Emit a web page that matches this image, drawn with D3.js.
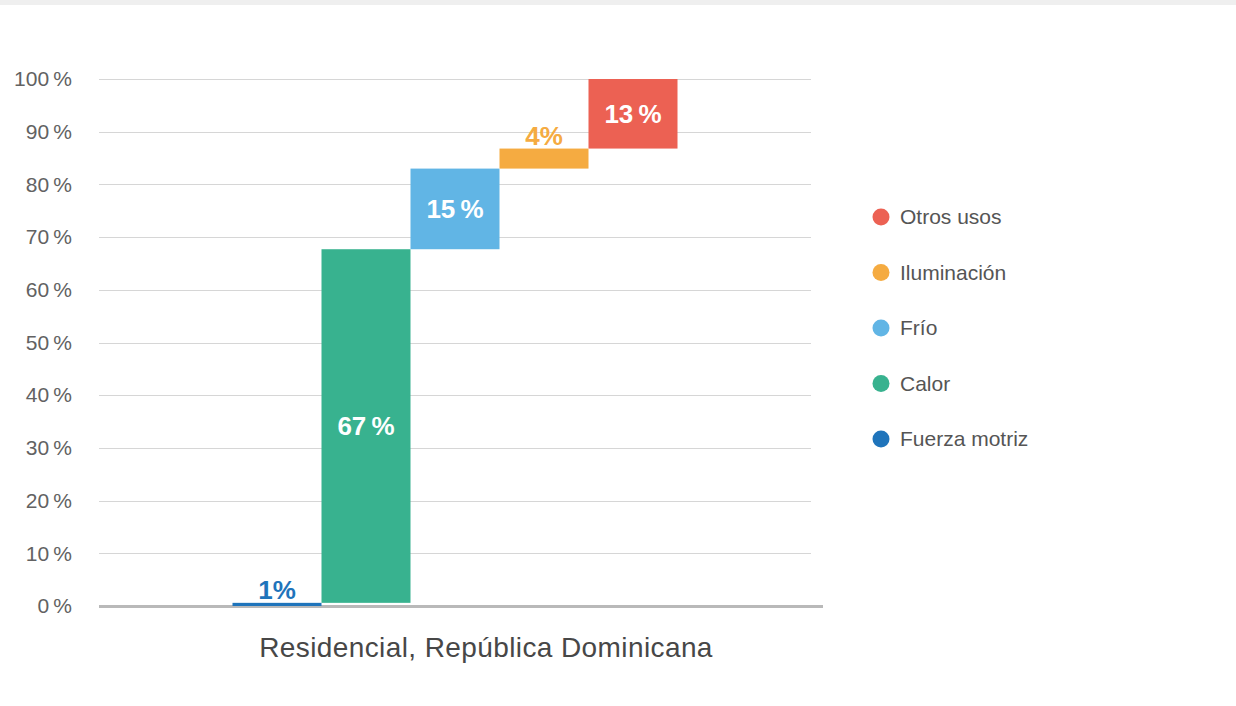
<!DOCTYPE html>
<html>
<head>
<meta charset="utf-8">
<script src="https://cdn.jsdelivr.net/npm/d3@7"></script>
<style>
  html, body { margin: 0; padding: 0; background: #ffffff; }
  svg { display: block; font-family: "Liberation Sans", Arial, Helvetica, sans-serif; }
</style>
</head>
<body>
<svg id="chart" width="1236" height="706"></svg>
<script>
// End-use shares of residential energy demand (percent), in stacking order
const categories = ["Fuerza motriz", "Calor", "Frío", "Iluminación", "Otros usos"];
const shares = [0.6, 67.1, 15.3, 3.8, 13.2];
const colors = ["#1f74bb", "#38b28f", "#61b5e5", "#f5ab41", "#ec6153"];
const yTicks = [0, 10, 20, 30, 40, 50, 60, 70, 80, 90, 100];
const xLabel = "Residencial, República Dominicana";

const svg = d3.select("#chart");
const W = 1236;

// light strip along the top edge of the page
svg.append("rect").attr("x", 0).attr("y", 0).attr("width", W).attr("height", 5).attr("fill", "#efefef");

const plot = { left: 99, right: 811, top: 79, bottom: 606 };

const y = d3.scaleLinear().domain([0, 100]).range([plot.bottom, plot.top]);
const x = d3.scaleBand().domain(categories).range([plot.left, plot.right])
  .paddingInner(0).paddingOuter(1.5);

// cumulative start/end of each step of the waterfall
let acc = 0;
const steps = categories.map((c, i) => {
  const s = { name: c, value: shares[i], color: colors[i], start: acc, end: acc + shares[i] };
  acc += shares[i];
  return s;
});

// horizontal gridlines + tick labels
const yAxis = d3.axisLeft(y).tickValues(yTicks)
  .tickSize(-(plot.right - plot.left))
  .tickPadding(27)
  .tickFormat(d => d + "\u2009%");

const ga = svg.append("g").attr("transform", `translate(${plot.left},0)`).call(yAxis);
ga.select(".domain").remove();
ga.selectAll(".tick line").attr("stroke", "#d6d6d6").attr("stroke-width", 1).attr("shape-rendering", "crispEdges");
ga.selectAll(".tick text").attr("fill", "#626262").attr("font-size", 21)
  .attr("font-family", "'Liberation Sans', Arial, sans-serif");

// baseline
svg.append("line")
  .attr("x1", plot.left).attr("x2", 823)
  .attr("y1", y(0) + 0.5).attr("y2", y(0) + 0.5)
  .attr("stroke", "#b9b9b9").attr("stroke-width", 3);

// bars
svg.append("g").selectAll("rect").data(steps).join("rect")
  .attr("x", d => x(d.name))
  .attr("width", x.bandwidth())
  .attr("y", d => y(d.end))
  .attr("height", d => y(d.start) - y(d.end))
  .attr("fill", d => d.color);

// value labels: inside tall bars, above thin ones
const fmt = v => {
  const r = Math.round(v);
  return r + (r >= 10 ? "\u2009" : "") + "%";
};
svg.append("g").selectAll("text").data(steps).join("text")
  .attr("x", d => x(d.name) + x.bandwidth() / 2)
  .attr("y", d => {
    const h = y(d.start) - y(d.end);
    return h > 40 ? (y(d.start) + y(d.end)) / 2 + 9 : y(d.end) - 4;
  })
  .attr("text-anchor", "middle")
  .attr("font-size", 26)
  .attr("font-weight", "bold")
  .attr("fill", d => (y(d.start) - y(d.end)) > 40 ? "#ffffff" : d.color)
  .text(d => fmt(d.value));

// category label
svg.append("text")
  .attr("x", 486).attr("y", 657)
  .attr("text-anchor", "middle")
  .attr("font-size", 28)
  .attr("letter-spacing", 0.4)
  .attr("fill", "#474747")
  .text(xLabel);

// legend (top to bottom: last series first)
const legend = svg.append("g").selectAll("g").data(steps.slice().reverse()).join("g")
  .attr("transform", (d, i) => `translate(881,${217 + i * 55.5})`);
legend.append("circle").attr("r", 8.5).attr("fill", d => d.color);
legend.append("text").attr("x", 19).attr("dy", "0.35em")
  .attr("font-size", 21).attr("fill", "#555555")
  .text(d => d.name);
</script>
</body>
</html>
